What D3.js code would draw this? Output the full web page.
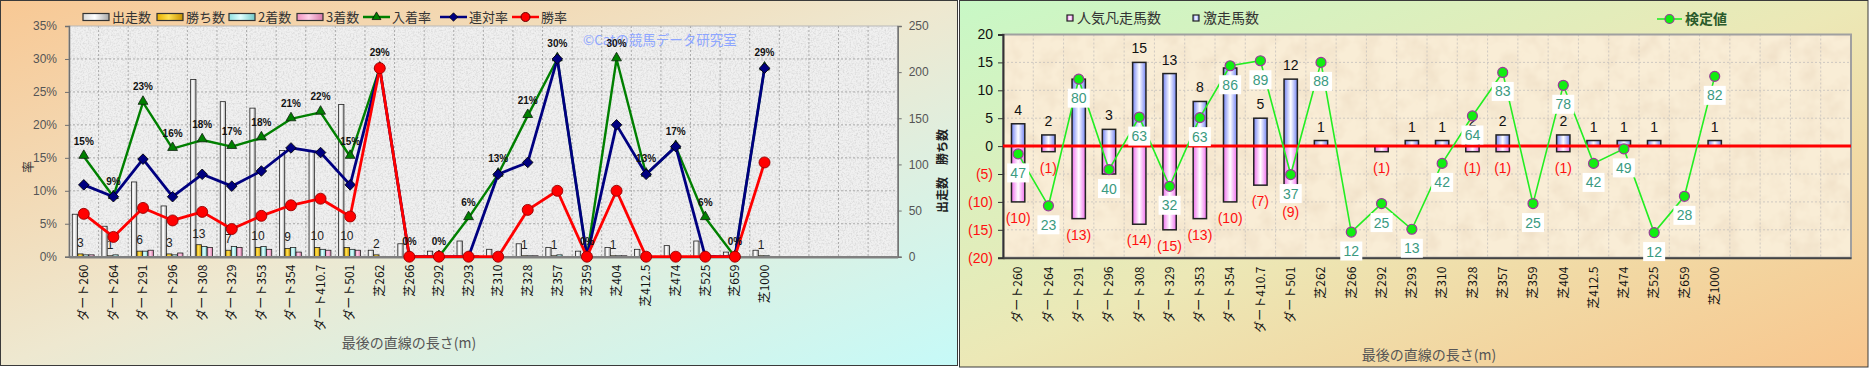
<!DOCTYPE html>
<html>
<head>
<meta charset="utf-8">
<script src="https://cdn.jsdelivr.net/npm/d3@7"></script>
<style>
body { margin: 0; background: #fff; }
svg { display: block; font-family: "Liberation Sans", "Noto Sans CJK JP", sans-serif; }
.jp { font-family: "Noto Sans CJK JP", sans-serif; }
</style>
</head>
<body>
<svg id="chart" width="1869" height="368"></svg>
<script>
// カテゴリ (最後の直線の長さ)
var cats = ["ダート260","ダート264","ダート291","ダート296","ダート308","ダート329","ダート353","ダート354","ダート410.7","ダート501",
  "芝262","芝266","芝292","芝293","芝310","芝328","芝357","芝359","芝404","芝412.5","芝474","芝525","芝659","芝1000"];
var slots = 28; // 軸は28枠、最後の4枠は空

// 左グラフ
var runs   = [46,33,81,55,192,168,161,115,114,165,7,14,6,17,8,14,10,6,10,8,12,17,5,7];
var wins   = [3,1,6,3,13,7,10,9,10,10,2,0,0,0,0,1,1,0,1,0,0,0,0,1];
var second = [2,2,6,2,11,11,11,10,8,8,0,0,0,0,1,1,2,0,1,1,2,0,0,1];
var third  = [2,0,7,4,10,10,8,5,7,7,0,0,0,1,0,1,0,0,1,0,0,1,0,0];
var placeRate  = [15.2,9.1,23.4,16.4,17.7,16.7,18.0,20.9,21.9,15.2,28.6,0,0,5.9,12.5,21.4,30.0,0,30.0,12.5,16.7,5.9,0,28.6];
var rentaiRate = [10.9,9.1,14.8,9.1,12.5,10.7,13.0,16.5,15.8,10.9,28.6,0,0,0,12.5,14.3,30.0,0,20.0,12.5,16.7,0,0,28.6];
var winRate    = [6.5,3.0,7.4,5.5,6.8,4.2,6.2,7.8,8.8,6.1,28.6,0,0,0,0,7.1,10.0,0,10.0,0,0,0,0,14.3];
var pctTicks = [0,5,10,15,20,25,30,35];
var cntTicks = [0,50,100,150,200,250];

// 右グラフ
var gekiso = [4,2,12,3,15,13,8,14,5,12,1,0,0,1,1,2,2,0,2,1,1,1,0,1];
var bonso  = [10,1,13,5,14,15,13,10,7,9,0,0,1,0,0,1,1,0,1,0,0,0,0,0];
var kenteiPos = [-1.4,-10.7,12.0,-4.2,5.2,-7.2,5.1,14.4,15.3,-5.1,15.0,-15.4,-10.3,-14.9,-3.1,5.4,13.2,-10.3,10.9,-3.1,-0.5,-15.5,-9.0,12.5];
var kenteiLbl = [47,23,80,40,63,32,63,86,89,37,88,12,25,13,42,64,83,25,78,42,49,12,28,82];
var hideTop = ["ダート291","ダート354"];
var rTicks = [-20,-15,-10,-5,0,5,10,15,20];

const svg = d3.select("#chart");
const defs = svg.append("defs");

function lin(id, stops, x2, y2) {
  const g = defs.append("linearGradient").attr("id", id)
    .attr("x1", 0).attr("y1", 0).attr("x2", x2).attr("y2", y2);
  stops.forEach(s => g.append("stop").attr("offset", s[0]).attr("stop-color", s[1]));
}
lin("bgL", [[0,"#f8c894"],[0.5,"#eee8d0"],[1,"#c6faf8"]], 1, 1);
lin("bgR", [[0,"#c8f8c6"],[0.5,"#ece8b6"],[1,"#f8c68e"]], 1, 1);
lin("gRun", [[0,"#d8d8d8"],[0.45,"#ffffff"],[1,"#a8a8a8"]], 1, 0);
lin("gWin", [[0,"#e8b000"],[0.45,"#ffe050"],[1,"#c89000"]], 1, 0);
lin("g2nd", [[0,"#90e0e0"],[0.45,"#e0ffff"],[1,"#70c8c8"]], 1, 0);
lin("g3rd", [[0,"#f090c0"],[0.45,"#ffd0e8"],[1,"#d878a8"]], 1, 0);
lin("gBlue", [[0,"#7484f4"],[0.5,"#ffffff"],[1,"#7484f4"]], 1, 0);
lin("gPink", [[0,"#f070ee"],[0.5,"#ffffff"],[1,"#f070ee"]], 1, 0);

function noise(id, freq, rgb, a, b) {
  const f = defs.append("filter").attr("id", id)
    .attr("x", 0).attr("y", 0).attr("width", "100%").attr("height", "100%");
  f.append("feTurbulence").attr("type", "fractalNoise").attr("baseFrequency", freq)
    .attr("numOctaves", 3).attr("seed", 4);
  f.append("feColorMatrix").attr("type", "matrix")
    .attr("values", `0 0 0 0 ${rgb[0]}  0 0 0 0 ${rgb[1]}  0 0 0 0 ${rgb[2]}  ${a} 0 0 0 ${b}`);
}
noise("nzL", 0.6, [0.55,0.55,0.55], 1.2, -0.5);
noise("nzR", 0.05, [0.85,0.72,0.55], 1.4, -0.55);

// パネル背景
svg.append("rect").attr("x", 0.5).attr("y", 0.5).attr("width", 957).attr("height", 365)
  .attr("fill", "url(#bgL)").attr("stroke", "#3a3a3a");
svg.append("rect").attr("x", 959.5).attr("y", 0.5).attr("width", 908.5).attr("height", 366.5)
  .attr("fill", "url(#bgR)").attr("stroke", "#3a3a3a");

// ================= 左グラフ =================
const L = { l: 69, r: 897.7, t: 26, b: 256.7 };
const xL = d3.scaleBand().domain(d3.range(slots)).range([L.l, L.r]);
const yL = d3.scaleLinear().domain([0, 35]).range([L.b, L.t]);
const yC = d3.scaleLinear().domain([0, 250]).range([L.b, L.t]);
const bwL = xL.bandwidth();
const cxL = i => xL(i) + bwL / 2;

svg.append("rect").attr("x", L.l).attr("y", L.t).attr("width", L.r - L.l).attr("height", L.b - L.t)
  .attr("fill", "#f0f0f0");
svg.append("rect").attr("x", L.l).attr("y", L.t).attr("width", L.r - L.l).attr("height", L.b - L.t)
  .attr("filter", "url(#nzL)");

const gridL = svg.append("g").attr("stroke", "#9a9a9a").attr("stroke-dasharray", "2,2").attr("stroke-width", 0.8);
d3.range(1, slots).forEach(i => gridL.append("line").attr("x1", xL(i)).attr("x2", xL(i)).attr("y1", L.t).attr("y2", L.b));
pctTicks.slice(1, -1).forEach(v => gridL.append("line").attr("x1", L.l).attr("x2", L.r).attr("y1", yL(v)).attr("y2", yL(v)));
svg.append("rect").attr("x", L.l).attr("y", L.t).attr("width", L.r - L.l).attr("height", L.b - L.t)
  .attr("fill", "none").attr("stroke", "#b8b8b8");

svg.append("text").attr("class", "jp").attr("x", 583).attr("y", 45).attr("font-size", 13.5)
  .attr("fill", "#8ea6ff").text("©Catの競馬データ研究室");

// 棒 (出走数・勝ち数・2着数・3着数)
const series = [["出走数", runs, "url(#gRun)"], ["勝ち数", wins, "url(#gWin)"], ["2着数", second, "url(#g2nd)"], ["3着数", third, "url(#g3rd)"]];
const xIn = d3.scaleBand().domain(d3.range(4)).range([bwL * 0.11, bwL * 0.85]).paddingInner(0.04);
series.forEach((s, k) => {
  svg.append("g").selectAll("rect").data(s[1]).enter().append("rect")
    .attr("x", (d, i) => xL(i) + xIn(k))
    .attr("y", d => yC(d))
    .attr("width", xIn.bandwidth())
    .attr("height", d => L.b - yC(d))
    .attr("fill", s[2]).attr("stroke", "#222").attr("stroke-width", 0.8);
});
svg.append("g").selectAll("text").data(wins).enter().append("text")
  .attr("x", (d, i) => xL(i) + xIn(1) + xIn.bandwidth() / 2)
  .attr("y", d => yC(d) - 7)
  .attr("text-anchor", "middle").attr("font-size", 12).attr("fill", "#222")
  .text(d => d > 0 ? d : "");

// 軸
const axL = svg.append("g").attr("transform", `translate(${L.l},0)`)
  .call(d3.axisLeft(yL).tickValues(pctTicks).tickFormat(d => d + "%").tickSize(4).tickPadding(8));
const axR = svg.append("g").attr("transform", `translate(${L.r},0)`)
  .call(d3.axisRight(yC).tickValues(cntTicks).tickSize(4).tickPadding(7));
[axL, axR].forEach(a => {
  a.select(".domain").attr("stroke", "#707070").attr("stroke-width", 1.5);
  a.selectAll(".tick line").attr("stroke", "#707070");
  a.selectAll("text").attr("font-size", 12).attr("fill", "#555");
});
const axB = svg.append("g").attr("transform", `translate(0,${L.b})`)
  .call(d3.axisBottom(xL).tickSize(0).tickFormat(i => cats[i] || ""));
axB.select(".domain").attr("stroke", "#808080").attr("stroke-width", 2.5);
axB.selectAll("text").attr("class", "jp").attr("font-size", 12).attr("fill", "#111")
  .attr("transform", "rotate(-90)").attr("x", -8).attr("y", 0).attr("dy", "0.36em")
  .style("text-anchor", "end");

// 折れ線
const idx = d3.range(cats.length);
function drawLine(vals, color, w) {
  svg.append("path").datum(idx)
    .attr("fill", "none").attr("stroke", color).attr("stroke-width", w).attr("stroke-linejoin", "round")
    .attr("d", d3.line().x(i => cxL(i)).y(i => yL(vals[i])));
}
drawLine(placeRate, "#008000", 2.4);
svg.append("g").selectAll("path").data(idx).enter().append("path")
  .attr("transform", i => `translate(${cxL(i)},${yL(placeRate[i]) - 1})`)
  .attr("d", d3.symbol(d3.symbolTriangle).size(42))
  .attr("fill", "#008000").attr("stroke", "#102010").attr("stroke-width", 0.8);
drawLine(rentaiRate, "#000080", 2.8);
svg.append("g").selectAll("path").data(idx).enter().append("path")
  .attr("transform", i => `translate(${cxL(i)},${yL(rentaiRate[i])}) rotate(45)`)
  .attr("d", d3.symbol(d3.symbolSquare).size(56))
  .attr("fill", "#000080").attr("stroke", "#000").attr("stroke-width", 0.8);
drawLine(winRate, "#ff0000", 2.8);
svg.append("g").selectAll("circle").data(idx).enter().append("circle")
  .attr("cx", i => cxL(i)).attr("cy", i => yL(winRate[i])).attr("r", 5.5)
  .attr("fill", "#ff0000").attr("stroke", "#900").attr("stroke-width", 0.9);
svg.append("g").selectAll("text").data(idx).enter().append("text")
  .attr("x", i => cxL(i)).attr("y", i => yL(placeRate[i]) - 12)
  .attr("text-anchor", "middle").attr("font-size", 10).attr("font-weight", "bold").attr("fill", "#111")
  .text(i => Math.round(placeRate[i]) + "%");

// 凡例・タイトル
const legL = svg.append("g").attr("font-size", 13).attr("fill", "#333").attr("class", "jp");
series.forEach((s, k) => {
  const x0 = [83, 157, 229, 297][k];
  legL.append("rect").attr("x", x0).attr("y", 13.5).attr("width", 26).attr("height", 7)
    .attr("fill", s[2]).attr("stroke", "#333").attr("stroke-width", 1.2);
  legL.append("text").attr("x", x0 + 29).attr("y", 22).text(s[0]);
});
const lineLeg = [["入着率", 363, "#008000", "tri"], ["連対率", 440, "#000080", "dia"], ["勝率", 512, "#ff0000", "cir"]];
lineLeg.forEach(s => {
  legL.append("line").attr("x1", s[1]).attr("x2", s[1] + 27).attr("y1", 17).attr("y2", 17)
    .attr("stroke", s[2]).attr("stroke-width", 2.5);
  const mx = s[1] + 13.5;
  if (s[3] === "cir") legL.append("circle").attr("cx", mx).attr("cy", 17).attr("r", 4.5).attr("fill", s[2]).attr("stroke", "#600");
  else legL.append("path").attr("transform", `translate(${mx},17)` + (s[3] === "dia" ? " rotate(45)" : ""))
    .attr("d", d3.symbol(s[3] === "dia" ? d3.symbolSquare : d3.symbolTriangle).size(s[3] === "dia" ? 36 : 34))
    .attr("fill", s[2]).attr("stroke", "#000").attr("stroke-width", 0.7);
  legL.append("text").attr("x", s[1] + 29).attr("y", 22).text(s[0]);
});
svg.append("text").attr("class", "jp").attr("transform", "translate(33,167) rotate(-90)")
  .attr("text-anchor", "middle").attr("font-size", 12).attr("fill", "#333").text("率");
svg.append("text").attr("class", "jp").attr("transform", "translate(947,171) rotate(-90)")
  .attr("text-anchor", "middle").attr("font-size", 12).attr("font-weight", "bold").attr("fill", "#222").text("出走数　勝ち数");
svg.append("text").attr("class", "jp").attr("x", 409).attr("y", 348).attr("text-anchor", "middle")
  .attr("font-size", 14).attr("fill", "#555").text("最後の直線の長さ(m)");

// ================= 右グラフ =================
const R = { l: 1003, r: 1851, t: 34.5, b: 257.7 };
const xR = d3.scaleBand().domain(d3.range(slots)).range([R.l, R.r]);
const yR = d3.scaleLinear().domain([-20, 20]).range([R.b, R.t]);
const bwR = xR.bandwidth();
const cxR = i => xR(i) + bwR / 2;

svg.append("rect").attr("x", R.l).attr("y", R.t).attr("width", R.r - R.l).attr("height", R.b - R.t)
  .attr("fill", "#f9edd6");
svg.append("rect").attr("x", R.l).attr("y", R.t).attr("width", R.r - R.l).attr("height", R.b - R.t)
  .attr("filter", "url(#nzR)");
const gridR = svg.append("g").attr("stroke", "#c4c0bc").attr("stroke-dasharray", "2,2").attr("stroke-width", 0.8);
d3.range(1, slots).forEach(i => gridR.append("line").attr("x1", xR(i)).attr("x2", xR(i)).attr("y1", R.t).attr("y2", R.b));
rTicks.slice(1, -1).forEach(v => gridR.append("line").attr("x1", R.l).attr("x2", R.r).attr("y1", yR(v)).attr("y2", yR(v)));
svg.append("rect").attr("x", R.l).attr("y", R.t).attr("width", R.r - R.l).attr("height", R.b - R.t)
  .attr("fill", "none").attr("stroke", "#a0a0a0").attr("stroke-width", 2);

const bwBar = bwR * 0.44;
svg.append("g").selectAll("rect").data(bonso).enter().append("rect")
  .attr("x", (d, i) => cxR(i) - bwBar / 2).attr("y", yR(0))
  .attr("width", bwBar).attr("height", d => yR(-d) - yR(0))
  .attr("fill", "url(#gPink)").attr("stroke", "#222").attr("stroke-width", 1.5)
  .style("display", d => d > 0 ? null : "none");
svg.append("g").selectAll("rect").data(gekiso).enter().append("rect")
  .attr("x", (d, i) => cxR(i) - bwBar / 2).attr("y", d => yR(d))
  .attr("width", bwBar).attr("height", d => yR(0) - yR(d))
  .attr("fill", "url(#gBlue)").attr("stroke", "#222").attr("stroke-width", 1.5)
  .style("display", d => d > 0 ? null : "none");
svg.append("g").selectAll("text").data(gekiso).enter().append("text")
  .attr("x", (d, i) => cxR(i)).attr("y", d => yR(d) - 9)
  .attr("text-anchor", "middle").attr("font-size", 14).attr("fill", "#111")
  .text((d, i) => d > 0 && hideTop.indexOf(cats[i]) < 0 ? d : "");
svg.append("g").selectAll("text").data(bonso).enter().append("text")
  .attr("x", (d, i) => cxR(i)).attr("y", d => yR(-d) + 21)
  .attr("text-anchor", "middle").attr("font-size", 14).attr("fill", "#ff1010")
  .text(d => d > 0 ? "(" + d + ")" : "");

const axRL = svg.append("g").attr("transform", `translate(${R.l},0)`)
  .call(d3.axisLeft(yR).tickValues(rTicks).tickSize(5).tickPadding(5).tickFormat(d => d < 0 ? "(" + (-d) + ")" : d));
axRL.select(".domain").attr("stroke", "#333").attr("stroke-width", 2);
axRL.selectAll(".tick line").attr("stroke", "#333");
axRL.selectAll("text").attr("font-size", 14).attr("fill", d => d < 0 ? "#ff1010" : "#111");
const axRB = svg.append("g").attr("transform", `translate(0,${R.b})`)
  .call(d3.axisBottom(xR).tickSize(0).tickFormat(i => cats[i] || ""));
axRB.select(".domain").attr("stroke", "#444").attr("stroke-width", 2);
axRB.selectAll("text").attr("class", "jp").attr("font-size", 12).attr("fill", "#111")
  .attr("transform", "rotate(-90)").attr("x", -9).attr("y", 0).attr("dy", "0.36em")
  .style("text-anchor", "end");

svg.append("line").attr("x1", R.l).attr("x2", R.r).attr("y1", yR(0)).attr("y2", yR(0))
  .attr("stroke", "#ff0000").attr("stroke-width", 3);

// 検定値
svg.append("path").datum(idx).attr("fill", "none").attr("stroke", "#22ee22").attr("stroke-width", 1.6)
  .attr("d", d3.line().x(i => cxR(i)).y(i => yR(kenteiPos[i])));
svg.append("g").selectAll("circle").data(idx).enter().append("circle")
  .attr("cx", i => cxR(i)).attr("cy", i => yR(kenteiPos[i])).attr("r", 5)
  .attr("fill", "#11ee11").attr("stroke", "#9a3a9a").attr("stroke-width", 1.2);
const kl = svg.append("g").selectAll("g").data(idx).enter().append("g")
  .attr("transform", i => `translate(${cxR(i)},${yR(kenteiPos[i]) + 19})`);
kl.append("rect").attr("x", -11).attr("y", -9.5).attr("width", 22).attr("height", 19).attr("fill", "#fff");
kl.append("text").attr("text-anchor", "middle").attr("dy", "0.36em").attr("font-size", 14)
  .attr("fill", "#3a9a80").text(i => kenteiLbl[i]);

// 凡例・タイトル
const legR = svg.append("g").attr("class", "jp").attr("font-size", 14).attr("fill", "#333");
legR.append("rect").attr("x", 1067).attr("y", 15).attr("width", 6).attr("height", 6)
  .attr("fill", "url(#gPink)").attr("stroke", "#222").attr("stroke-width", 1.2);
legR.append("text").attr("x", 1077).attr("y", 23).text("人気凡走馬数");
legR.append("rect").attr("x", 1193).attr("y", 15).attr("width", 6).attr("height", 6)
  .attr("fill", "url(#gBlue)").attr("stroke", "#222").attr("stroke-width", 1.2);
legR.append("text").attr("x", 1203).attr("y", 23).text("激走馬数");
legR.append("line").attr("x1", 1657).attr("x2", 1682).attr("y1", 19).attr("y2", 19)
  .attr("stroke", "#22ee22").attr("stroke-width", 1.6);
legR.append("circle").attr("cx", 1669.5).attr("cy", 19).attr("r", 4.5)
  .attr("fill", "#11ee11").attr("stroke", "#9a3a9a").attr("stroke-width", 1.2);
legR.append("text").attr("x", 1685).attr("y", 24).attr("font-weight", "bold").attr("fill", "#2a5a2a").text("検定値");
svg.append("text").attr("class", "jp").attr("x", 1429).attr("y", 360).attr("text-anchor", "middle")
  .attr("font-size", 14).attr("fill", "#555").text("最後の直線の長さ(m)");
</script>
</body>
</html>
